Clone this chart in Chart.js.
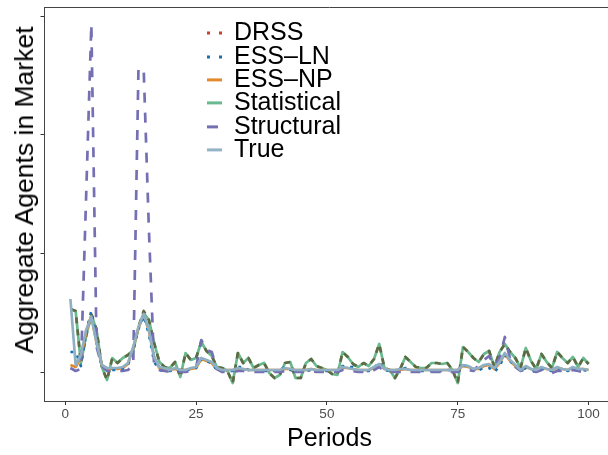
<!DOCTYPE html>
<html>
<head>
<meta charset="utf-8">
<script src="https://cdn.jsdelivr.net/npm/chart.js@4.4.1/dist/chart.umd.min.js"></script>
<style>
body{margin:0;overflow:hidden;background:#fff;font-family:"Liberation Sans",Arial,sans-serif;}
#wrap{position:relative;width:620px;height:455px;}
#legend{position:absolute;left:205px;top:20.4px;font-size:25px;line-height:23.3px;color:#000;}
.row{position:relative;height:23.3px;}
.row svg{position:absolute;left:0;top:0;}
.row span{position:absolute;left:29px;top:0;white-space:nowrap;}
#ytitle{position:absolute;left:24px;top:190px;font-size:26.5px;line-height:30px;white-space:nowrap;color:#000;
  transform:translate(-50%,-50%) rotate(-90deg);}
</style>
</head>
<body>
<div id="wrap">
<canvas id="chart" width="620" height="455"></canvas>
<div id="legend"></div>
<div id="ytitle">Aggregate Agents in Market</div>
</div>
<script>
// du lieu doc tu hinh
const periods = Array.from({length:100}, (_, i) => i + 1);
const xTicks = [0, 25, 50, 75, 100];
const yTicks = [120, 238.7, 357.4, 476];

const drss = [
183,181,129,156,178,162,125,112,134,129,
134,137,142,165,181,172,149,130,125,124,
130,115,139,132,134,150,141,136,125,124,
121,109,139,129,134,124,127,129,119,114,
117,129,130,114,114,129,133,126,124,122,
118,117,140,135,128,125,129,126,133,148,
124,122,114,123,135,130,125,124,124,129,
129,128,129,122,109,145,140,134,130,138,
141,125,140,148,140,134,124,144,131,123,
138,130,124,140,134,129,135,125,134,128];

const essLN = [
140,140,126,160,181,150,126,122,122,122,
123,127,142,163,176,158,130,122,121,121,
122,121,121,123,124,133,131,129,122,121,
121,121,125,125,122,121,122,121,121,121,
122,125,122,121,121,121,122,121,121,121,
121,121,126,125,125,121,121,121,124,130,
122,121,121,122,124,122,121,121,121,121,
121,121,122,122,121,126,127,122,122,124,
124,120,126,137,131,126,121,124,122,121,
123,122,121,124,122,121,123,121,122,121];

const essNP = [
127,125,134,160,176,149,127,123,123,123,
124,128,144,164,177,161,134,124,123,122,
123,122,122,123,124,133,131,129,123,122,
122,122,123,123,122,122,122,122,122,122,
122,123,123,122,122,122,123,122,122,122,
122,122,124,124,123,122,122,122,124,127,
123,122,122,122,123,122,122,122,122,122,
122,122,122,122,122,126,125,123,123,126,
127,123,129,138,131,126,122,125,123,122,
124,123,122,124,123,122,124,123,123,122];

const statistical = [
183,181,129,156,177,162,125,112,134,129,
134,137,142,164,179,172,149,130,125,124,
130,115,139,132,134,150,141,136,125,124,
121,109,139,129,134,124,127,129,119,114,
117,129,130,114,114,129,133,126,124,122,
118,117,140,135,128,125,129,126,133,148,
124,122,114,123,135,130,125,124,124,129,
129,128,129,122,109,145,140,134,130,138,
141,125,140,148,140,134,124,144,131,123,
138,130,124,140,134,129,135,125,134,128];

const structural = [
124,121,123,295,468,145,126,121,121,121,
121,122,127,423,423,262,125,122,121,120,
121,120,120,121,124,152,142,140,123,120,
120,120,121,121,120,120,120,120,120,120,
120,121,121,120,120,120,121,120,120,120,
120,120,122,122,121,120,120,120,122,125,
121,120,120,120,121,120,120,120,120,120,
120,120,120,120,120,123,122,121,127,132,
136,126,134,155,133,125,121,123,121,120,
122,121,119,121,121,120,122,121,120,120];

const trueVals = [
193,127,137,162,175,149,127,124,124,124,
125,129,145,165,178,162,135,125,124,122,
124,122,122,124,125,134,132,130,124,122,
122,122,124,123,122,122,122,122,122,122,
122,124,123,122,122,122,123,122,122,122,
122,122,125,124,123,122,122,122,125,128,
123,122,122,123,123,122,122,122,122,122,
122,122,122,122,122,127,126,123,124,127,
128,124,130,139,132,127,122,126,123,122,
125,123,122,125,123,122,125,123,123,122];

const fam = '"Liberation Sans", Arial, sans-serif';

function pts(arr){
    return periods.map((p, i) => ({x: p, y: arr[i]}));
}

// legend giong ggplot
const legendItems = [
    {name:'DRSS', color:'#c8402f', dash:'3 9'},
    {name:'ESS\u2013LN', color:'#1771b0', dash:'3 9'},
    {name:'ESS\u2013NP', color:'#e2892d', dash:''},
    {name:'Statistical', color:'#69b98f', dash:''},
    {name:'Structural', color:'#7570b3', dash:'11 11'},
    {name:'True', color:'#93b3c6', dash:''}
];
let lg = document.getElementById('legend');
legendItems.forEach(it => {
    let row = document.createElement('div');
    row.className = 'row';
    row.innerHTML = '<svg width="22" height="24"><line x1="2" y1="12.9" x2="17" y2="12.9" stroke="' + it.color +
        '" stroke-width="3" stroke-dasharray="' + it.dash + '"/></svg><span>' + it.name + '</span>';
    lg.appendChild(row);
});

const topBorder = {
    id: 'topBorder',
    afterDraw(chart){
        const a = chart.chartArea, ctx = chart.ctx;
        ctx.save();
        ctx.strokeStyle = '#444';
        ctx.lineWidth = 1;
        ctx.beginPath();
        ctx.moveTo(a.left, Math.round(a.top) + 0.5);
        ctx.lineTo(a.right, Math.round(a.top) + 0.5);
        ctx.stroke();
        ctx.restore();
    }
};

const data = {
    datasets: [
        {label:'True', data:pts(trueVals), borderColor:'#8fb0c4', borderWidth:2.7, order:0},
        {label:'Structural', data:pts(structural), borderColor:'#7470b3', borderWidth:2.7, borderDash:[10,10], order:1},
        {label:'ESS-LN', data:pts(essLN), borderColor:'#1771b0', borderWidth:2.7, borderDash:[3,6], order:2},
        {label:'ESS-NP', data:pts(essNP), borderColor:'#e2892d', borderWidth:2.7, order:3},
        {label:'DRSS', data:pts(drss), borderColor:'#5e6a42', borderWidth:2.7, borderDash:[6,6], order:4},
        {label:'Statistical', data:pts(statistical), borderColor:'#69b98f', borderWidth:2.7, order:5}
    ]
};

const config = {
    type: 'line',
    data: data,
    options: {
        responsive: false,
        animation: false,
        layout: {padding: {top: 7, right: 5.5, left: 0, bottom: 0}},
        plugins: {legend: {display: false}, tooltip: {enabled: false}},
        elements: {point: {radius: 0}, line: {tension: 0, borderJoinStyle: 'round'}},
        scales: {
            x: {
                type: 'linear', min: -3.95, max: 104.95,
                afterBuildTicks: s => { s.ticks = xTicks.map(v => ({value: v})); },
                grid: {drawOnChartArea: false, tickLength: 4, color: '#333'},
                border: {color: '#444', width: 1},
                ticks: {color: '#4d4d4d', font: {family: fam, size: 13.5}, padding: 1, maxRotation: 0, autoSkip: false},
                title: {display: true, text: 'Periods', color: '#000', font: {family: fam, size: 25}, padding: {top: 0, bottom: 1}},
                afterFit: s => { s.height = 54; }
            },
            y: {
                min: 91, max: 485,
                afterBuildTicks: s => { s.ticks = yTicks.map(v => ({value: v})); },
                grid: {drawOnChartArea: false, tickLength: 4, color: '#333'},
                border: {color: '#444', width: 1},
                ticks: {display: false},
                title: {display: false},
                afterFit: s => { s.width = 44.5; }
            }
        }
    },
    plugins: [topBorder]
};

let ctx = document.getElementById('chart').getContext('2d');
new Chart(ctx, config);
</script>
</body>
</html>
